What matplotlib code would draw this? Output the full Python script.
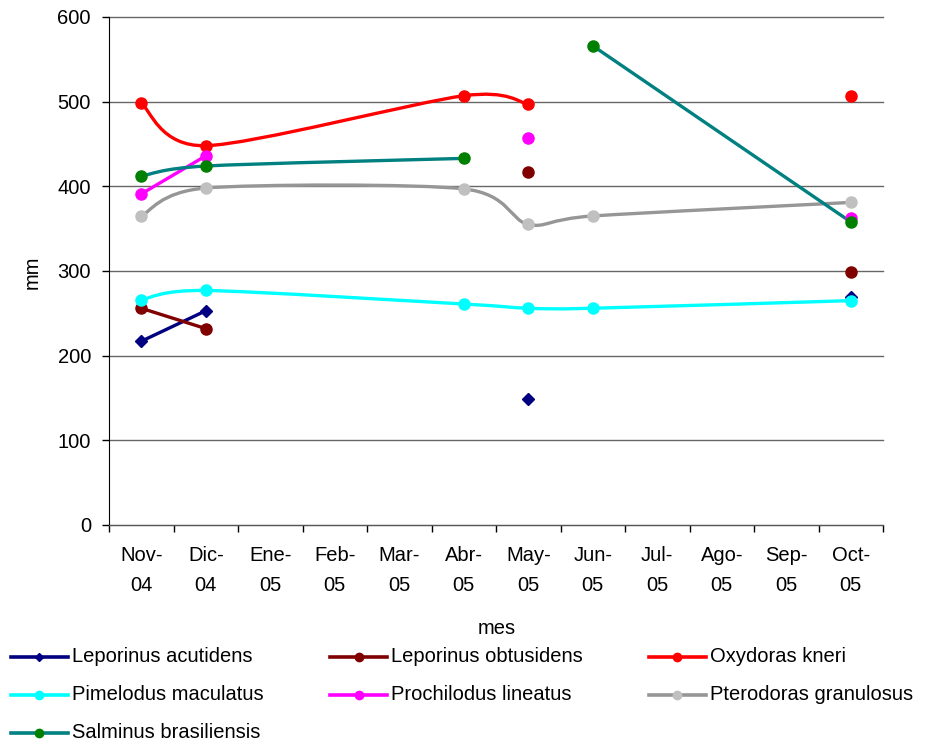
import matplotlib
matplotlib.use("Agg")
import matplotlib.pyplot as plt
import numpy as np
from matplotlib.path import Path
from matplotlib.patches import PathPatch
from matplotlib.lines import Line2D

plt.rcParams['font.family'] = ['Liberation Sans', 'DejaVu Sans']
FS = 14.5

# eje de meses (Nov-04 .. Oct-05)
meses = ['Nov-\n04', 'Dic-\n04', 'Ene-\n05', 'Feb-\n05', 'Mar-\n05', 'Abr-\n05',
         'May-\n05', 'Jun-\n05', 'Jul-\n05', 'Ago-\n05', 'Sep-\n05', 'Oct-\n05']

# meses en que hubo muestreo (posicion en el eje)
muestreo = [0, 1, 5, 6, 7, 11]

# talla media (mm) por muestreo, None = sin datos
acutidens = [217, 253, None, 149, None, 269]
obtusidens = [256, 232, None, 417, None, 299]
kneri = [498, 448, 507, 497, None, 507]
maculatus = [266, 277, 261, 256, 256, 265]
lineatus = [391, 436, None, 457, None, 363]
granulosus = [365, 398, 397, 355, 365, 381]
brasiliensis = [412, 424, 433, None, 566, 358]

especies = ['Leporinus acutidens', 'Leporinus obtusidens', 'Oxydoras kneri',
            'Pimelodus maculatus', 'Prochilodus lineatus', 'Pterodoras granulosus',
            'Salminus brasiliensis']
valores = [acutidens, obtusidens, kneri, maculatus, lineatus, granulosus, brasiliensis]

# (color linea, color marcador, marcador, tamaño)
estilos = [('#000080', '#000080', 'D', 6.0),
           ('#800000', '#800000', 'o', 8.0),
           ('#FF0000', '#FF0000', 'o', 8.0),
           ('#00FFFF', '#00FFFF', 'o', 8.0),
           ('#FF00FF', '#FF00FF', 'o', 8.0),
           ('#969696', '#C0C0C0', 'o', 8.0),
           ('#008080', '#008000', 'o', 8.0)]


def tramos(xs, ys):
    # separa la serie en tramos continuos (corta donde falta un dato)
    out, cur = [], []
    for x, y in zip(xs, ys):
        if y is None:
            if cur:
                out.append(cur)
            cur = []
        else:
            cur.append((x, y))
    if cur:
        out.append(cur)
    return out


def curva_suave(pts, k=6.0):
    # linea suavizada: bezier con puntos de control (P[i+1]-P[i-1])/k
    p = np.array(pts, dtype=float)
    n = len(p)
    verts = [p[0]]
    codes = [Path.MOVETO]
    for i in range(n - 1):
        p_prev = p[i - 1] if i > 0 else p[i]
        p_next2 = p[i + 2] if i + 2 < n else p[i + 1]
        c1 = p[i] + (p[i + 1] - p_prev) / k
        c2 = p[i + 1] - (p_next2 - p[i]) / k
        verts += [c1, c2, p[i + 1]]
        codes += [Path.CURVE4] * 3
    return Path(verts, codes)


fig = plt.figure(figsize=(9.28, 7.49), dpi=100)
ax = fig.add_axes([109 / 928, 1 - 525 / 749, 774 / 928, 508 / 749])

for vals, (lc, mc, mk, ms) in zip(valores, estilos):
    for t in tramos(muestreo, vals):
        if len(t) > 1:
            ax.add_patch(PathPatch(curva_suave(t, 7.0), fill=False, edgecolor=lc, lw=2.4,
                                   capstyle='round', joinstyle='round', zorder=3))
        tx = [a for a, b in t]
        ty = [b for a, b in t]
        ax.plot(tx, ty, linestyle='none', marker=mk, markersize=ms,
                markerfacecolor=mc, markeredgecolor=mc, zorder=4)

ax.set_xlim(-0.5, 11.5)
ax.set_ylim(0, 600)
ax.set_yticks(np.arange(0, 601, 100))
ax.set_xticks(np.arange(12))
ax.set_xticklabels(meses, fontsize=FS, linespacing=1.75)
ax.set_xticks(np.arange(-0.5, 12, 1), minor=True)
ax.tick_params(axis='x', which='major', length=0, pad=15)
ax.tick_params(axis='x', which='minor', length=5, width=1, direction='out')
ax.tick_params(axis='y', length=5, width=1, direction='out', pad=8, labelsize=FS)

ax.yaxis.grid(True, color='#666666', lw=1.0)
for gl in ax.get_ygridlines():
    gl.set_clip_on(False)
ax.set_axisbelow(True)

for s in ['top', 'right']:
    ax.spines[s].set_visible(False)
ax.spines['left'].set_color('black')
ax.spines['bottom'].set_color('#555555')

fig.text(497 / 928, 1 - 628 / 749, 'mes', fontsize=FS, ha='center', va='center')
fig.text(32 / 928, 1 - 272 / 749, 'mm', fontsize=FS, ha='center', va='center',
         rotation=90)

# leyenda en tres columnas debajo del grafico
filas = [657, 695, 733]
for i, (nombre, (lc, mc, mk, ms)) in enumerate(zip(especies, estilos)):
    y = 1 - filas[i // 3] / 749
    x0 = (11 + 319 * (i % 3)) / 928
    x1 = (68 + 319 * (i % 3)) / 928
    fig.add_artist(Line2D([x0, x1], [y, y], transform=fig.transFigure, color=lc, lw=2.6))
    fig.add_artist(Line2D([(x0 + x1) / 2], [y], transform=fig.transFigure, linestyle='none',
                          marker=mk, markersize=ms * 0.75, markerfacecolor=mc,
                          markeredgecolor=mc))
    fig.text((72 + 319 * (i % 3)) / 928, y, nombre, fontsize=FS, ha='left', va='center')

fig.savefig('out.png', dpi=100)
